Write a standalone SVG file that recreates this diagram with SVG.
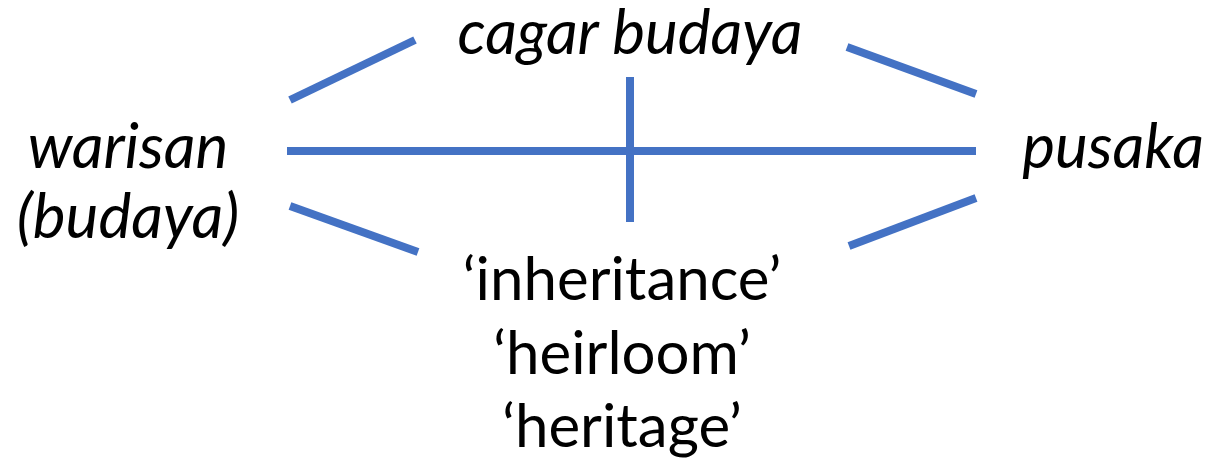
<svg xmlns="http://www.w3.org/2000/svg" width="1213" height="466" viewBox="0 0 1213 466">
  <style>
    .lbl { font-family: Lato, "Open Sans", "Liberation Sans", sans-serif; font-size: 60px; fill: #000; text-anchor: middle; }
    .it { font-style: italic; font-size: 62px; }
    .link { stroke: #4472C4; stroke-width: 8; fill: none; }
  </style>
  <rect width="1213" height="466" fill="#fff"/>

  <g id="connectors">
    <line class="link" x1="290" y1="100" x2="415" y2="40"/>
    <line class="link" x1="847" y1="47" x2="976" y2="94"/>
    <line class="link" x1="287" y1="151" x2="976" y2="151"/>
    <line class="link" x1="630" y1="77" x2="630" y2="222"/>
    <line class="link" x1="290" y1="206" x2="418" y2="252"/>
    <line class="link" x1="849" y1="246" x2="976" y2="198"/>
  </g>

  <g id="node-cagar-budaya">
    <text class="lbl it" x="630" y="54">cagar budaya</text>
  </g>
  <g id="node-warisan">
    <text class="lbl it" x="128" y="168">warisan</text>
    <text class="lbl it" x="128" y="238">(budaya)</text>
  </g>
  <g id="node-pusaka">
    <text class="lbl it" x="1113" y="168">pusaka</text>
  </g>
  <g id="node-glosses">
    <text class="lbl" x="622" y="300">‘inheritance’</text>
    <text class="lbl" x="622" y="374">‘heirloom’</text>
    <text class="lbl" x="622" y="447">‘heritage’</text>
  </g>
</svg>
